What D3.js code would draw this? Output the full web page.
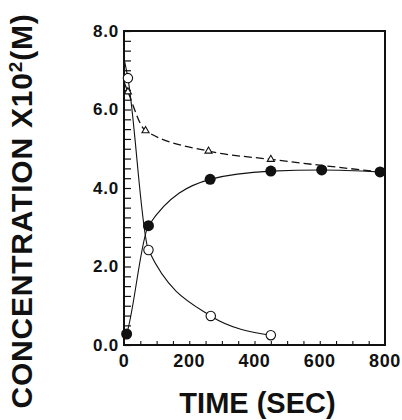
<!DOCTYPE html>
<html>
<head>
<meta charset="utf-8">
<script src="https://cdn.jsdelivr.net/npm/d3@7"></script>
<style>
  html, body { margin: 0; padding: 0; background: #fff; }
  svg { display: block; }
  .tick-label { font-family: "Liberation Sans", Arial, sans-serif; font-weight: bold; fill: #111; }
  .title { font-family: "Liberation Sans", Arial, sans-serif; font-weight: bold; fill: #111; }
</style>
</head>
<body>
<svg id="chart" width="402" height="420"></svg>
<script>
// data (time in sec, concentration x10^2 M)
var openTime = [12, 75, 266, 450];
var openConc = [6.8, 2.42, 0.74, 0.25];
var filledTime = [8, 75, 264, 450, 606, 785];
var filledConc = [0.28, 3.04, 4.22, 4.43, 4.46, 4.41];
var triTime = [12, 66, 259, 450];
var triConc = [6.45, 5.46, 4.94, 4.73];
// fitted curve knots
var openFitTime = [0, 12, 75, 266, 450];
var openFitConc = [7.3, 6.8, 2.42, 0.74, 0.25];
var filledFitTime = [0, 8, 75, 264, 450, 606, 785];
var filledFitConc = [0.1, 0.28, 3.04, 4.22, 4.43, 4.46, 4.41];
var triFitTime = [0, 12, 66, 259, 450, 785];
var triFitConc = [6.7, 6.45, 5.46, 4.94, 4.73, 4.41];

var xLabels = [0, 200, 400, 600, 800];
var yLabels = [0, 2, 4, 6, 8];

var svg = d3.select("#chart");
var margin = { left: 124, top: 31, right: 17, bottom: 75 };
var width = 402 - margin.left - margin.right;
var height = 420 - margin.top - margin.bottom;

var x = d3.scaleLinear().domain([0, 800]).range([0, width]);
var y = d3.scaleLinear().domain([0, 8]).range([height, 0]);

var g = svg.append("g").attr("transform", "translate(" + margin.left + "," + margin.top + ")");

// frame
g.append("rect")
  .attr("x", 0).attr("y", 0)
  .attr("width", width).attr("height", height)
  .attr("fill", "none").attr("stroke", "#111").attr("stroke-width", 2);

// inward minor ticks
var yAxis = d3.axisLeft(y)
  .tickValues(d3.range(0, 8.01, 0.25))
  .tickSize(-7)
  .tickFormat("");
g.append("g").call(yAxis)
  .call(function(s) { s.select(".domain").remove(); })
  .selectAll("line").attr("stroke", "#111").attr("stroke-width", 1.2);

var xAxis = d3.axisBottom(x)
  .tickValues(d3.range(50, 800, 50))
  .tickSize(-4)
  .tickFormat("");
g.append("g").attr("transform", "translate(0," + height + ")").call(xAxis)
  .call(function(s) { s.select(".domain").remove(); })
  .selectAll("line").attr("stroke", "#111").attr("stroke-width", 1.1);

// tick labels
g.selectAll(".ylab").data(yLabels).enter().append("text")
  .attr("class", "tick-label")
  .attr("x", -5)
  .attr("y", function(d) { return y(d); })
  .attr("dy", "0.35em")
  .attr("text-anchor", "end")
  .attr("font-size", 17)
  .attr("letter-spacing", 0.8)
  .text(function(d) { return d3.format(".1f")(d); });

g.selectAll(".xlab").data(xLabels).enter().append("text")
  .attr("class", "tick-label")
  .attr("x", function(d) { return x(d); })
  .attr("y", height + 22)
  .attr("text-anchor", "middle")
  .attr("font-size", 18)
  .attr("letter-spacing", 0.6)
  .text(function(d) { return d; });

// curves
var line = d3.line()
  .x(function(d) { return x(d[0]); })
  .y(function(d) { return y(d[1]); })
  .curve(d3.curveMonotoneX);

var zip = function(a, b) { return a.map(function(v, i) { return [v, b[i]]; }); };

g.append("path").datum(zip(openFitTime, openFitConc))
  .attr("d", line).attr("fill", "none").attr("stroke", "#111").attr("stroke-width", 1.1);
g.append("path").datum(zip(filledFitTime, filledFitConc))
  .attr("d", line).attr("fill", "none").attr("stroke", "#111").attr("stroke-width", 1.1);
g.append("path").datum(zip(triFitTime, triFitConc))
  .attr("d", line).attr("fill", "none").attr("stroke", "#111").attr("stroke-width", 1.3)
  .attr("stroke-dasharray", "8,4");

// markers
g.selectAll(".tri").data(zip(triTime, triConc)).enter().append("path")
  .attr("transform", function(d) { return "translate(" + x(d[0]) + "," + y(d[1]) + ")"; })
  .attr("d", d3.symbol(d3.symbolTriangle, 22))
  .attr("fill", "#fff").attr("stroke", "#111").attr("stroke-width", 1.1);

g.selectAll(".open").data(zip(openTime, openConc)).enter().append("circle")
  .attr("cx", function(d) { return x(d[0]); })
  .attr("cy", function(d) { return y(d[1]); })
  .attr("r", 4.7)
  .attr("fill", "#fff").attr("stroke", "#111").attr("stroke-width", 1.1);

g.selectAll(".filled").data(zip(filledTime, filledConc)).enter().append("circle")
  .attr("cx", function(d) { return x(d[0]); })
  .attr("cy", function(d) { return y(d[1]); })
  .attr("r", 5.5)
  .attr("fill", "#111");

// axis titles
svg.append("text")
  .attr("class", "title")
  .attr("x", margin.left + width / 2 + 3)
  .attr("y", 413)
  .attr("text-anchor", "middle")
  .attr("font-size", 29)
  .text("TIME (SEC)");

var yt = svg.append("text")
  .attr("class", "title")
  .attr("transform", "translate(32,211) rotate(-90)")
  .attr("text-anchor", "middle")
  .attr("font-size", 30)
  .attr("letter-spacing", 0.8);
yt.append("tspan").text("CONCENTRATION X10");
yt.append("tspan").attr("font-size", 19).attr("dy", -10).text("2");
yt.append("tspan").attr("dy", 10).text("(M)");
</script>
</body>
</html>
